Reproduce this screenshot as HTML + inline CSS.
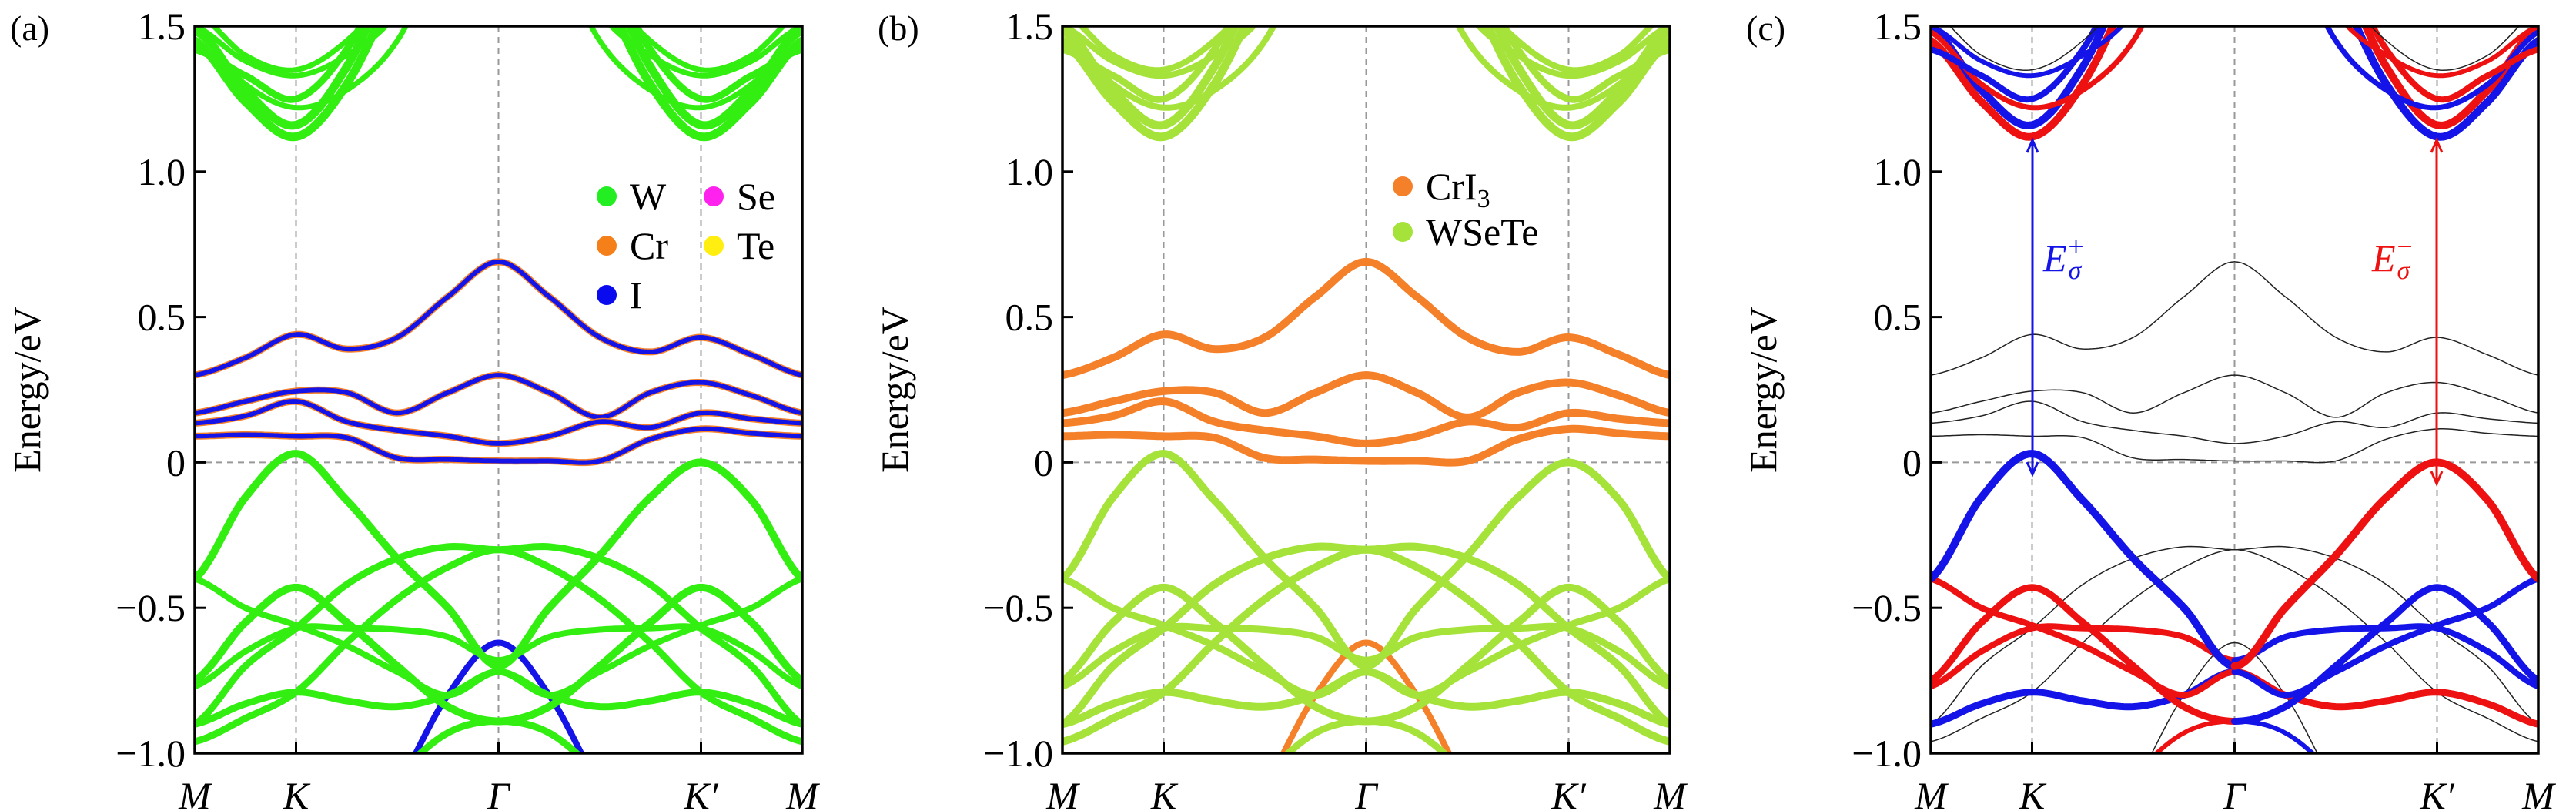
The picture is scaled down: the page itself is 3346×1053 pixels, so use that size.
<!DOCTYPE html>
<html><head><meta charset="utf-8"><style>
html,body{margin:0;padding:0;background:#fff}
svg{display:block}
text{font-family:"Liberation Serif",serif;fill:#000}
</style></head><body>
<svg id="fig" width="3346" height="1053" viewBox="0 0 3346 1053" xmlns="http://www.w3.org/2000/svg"></svg>
<script>
// ---- data ----
const kNodes = [0,1/12,2/12,3/12,4/12,5/12,6/12,7/12,8/12,9/12,10/12,11/12,1];
const kTickLabels = ["M","K","Γ","K′","M"];
const kTickPos = [0,1/6,0.5,5/6,1];
const yTicks = [1.5,1.0,0.5,0,-0.5,-1.0];
const yTickLabels = ["1.5","1.0","0.5","0","−0.5","−1.0"];
const D1 = [0.30,0.36,0.44,0.39,0.43,0.57,0.69,0.57,0.43,0.38,0.43,0.37,0.30];
const D2 = [0.17,0.21,0.245,0.24,0.17,0.24,0.30,0.24,0.155,0.24,0.275,0.23,0.17];
const D3 = [0.135,0.16,0.21,0.14,0.11,0.09,0.065,0.09,0.14,0.12,0.17,0.15,0.135];
const D4 = [0.09,0.095,0.09,0.085,0.015,0.01,0.005,0.005,0.005,0.08,0.115,0.10,0.09];
const VA = [-0.40,-0.12,0.03,-0.13,-0.33,-0.50,-0.70,-0.50,-0.32,-0.12,0.00,-0.13,-0.40];
const VB = [-0.40,-0.50,-0.56,-0.63,-0.72,-0.80,-0.72,-0.80,-0.72,-0.63,-0.56,-0.50,-0.40];
const VC = [-0.75,-0.55,-0.43,-0.55,-0.70,-0.84,-0.89,-0.84,-0.70,-0.55,-0.43,-0.55,-0.75];
const VD = [-0.77,-0.65,-0.57,-0.57,-0.575,-0.60,-0.68,-0.60,-0.575,-0.57,-0.57,-0.65,-0.77];
const VE = [-0.90,-0.83,-0.79,-0.82,-0.84,-0.80,-0.72,-0.80,-0.84,-0.82,-0.79,-0.83,-0.90];
const VG1 = [-0.90,-0.70,-0.57,-0.42,-0.33,-0.29,-0.30,-0.29,-0.33,-0.42,-0.57,-0.70,-0.90];
const VG2 = [-0.96,-0.88,-0.79,-0.62,-0.47,-0.36,-0.30,-0.36,-0.47,-0.62,-0.79,-0.88,-0.96];
const VH = [-2,-1.8,-1.6,-1.4,-1.12,-0.80,-0.62,-0.80,-1.12,-1.4,-1.6,-1.8,-2];
const VI = [-2,-1.8,-1.6,-1.3,-1.08,-0.93,-0.89,-0.93,-1.08,-1.3,-1.6,-1.8,-2];
const C1 = [1.45,1.24,1.12,1.30,1.65,2,2.2,2,1.65,1.30,1.12,1.24,1.45];
const C2 = [1.50,1.28,1.16,1.36,1.72,2,2.2,2,1.72,1.36,1.16,1.28,1.50];
const C3 = [1.48,1.30,1.22,1.28,1.45,1.8,2.1,1.8,1.45,1.28,1.22,1.30,1.48];
const C4 = [1.42,1.33,1.25,1.42,1.75,2,2.2,2,1.75,1.42,1.25,1.33,1.42];
const C5 = [1.50,1.38,1.33,1.40,1.55,1.9,2.1,1.9,1.55,1.40,1.33,1.38,1.50];
const C6 = [1.55,1.40,1.35,1.45,1.65,2,2.2,2,1.65,1.45,1.35,1.40,1.55];

// ---- styles ----
const GA='#33ee11', GB='#a6e33a', OR='#f5802a', BL='#1414e8', RD='#ee1111', BK='#222';
const bands = [
 ['c1',C1,[GA,11],[GB,11],[RD,BL,10]],
 ['c2',C2,[GA,11],[GB,11],[BL,RD,10]],
 ['c3',C3,[GA,7],[GB,8],[RD,BL,7]],
 ['c4',C4,[GA,9],[GB,9],[BL,RD,8]],
 ['c5',C5,[GA,7],[GB,8],[BL,RD,6]],
 ['c6',C6,[GA,7],[GB,8],[BK,BK,1.5]],
 ['vg1',VG1,[GA,9],[GB,10],[BK,BK,1.5]],
 ['vg2',VG2,[GA,9],[GB,10],[BK,BK,1.5]],
 ['vh',VH,[BL,8],[OR,8],[BK,BK,1.5]],
 ['vi',VI,[GA,9],[GB,9],[RD,BL,6]],
 ['ve',VE,[GA,9],[GB,10],[BL,RD,9]],
 ['vd',VD,[GA,8],[GB,9],[RD,BL,8]],
 ['vc',VC,[GA,10],[GB,10],[RD,BL,9]],
 ['vb',VB,[GA,8],[GB,9],[RD,BL,8]],
 ['va',VA,[GA,10],[GB,10],[BL,RD,10]],
 ['d1',D1,[BL,6,OR],[OR,10],[BK,BK,1.5]],
 ['d2',D2,[BL,6,OR],[OR,10],[BK,BK,1.5]],
 ['d3',D3,[BL,6,OR],[OR,10],[BK,BK,1.5]],
 ['d4',D4,[BL,6,OR],[OR,10],[BK,BK,1.5]]
];

const NS='http://www.w3.org/2000/svg';
const svg=document.getElementById('fig');
function mk(tag,attrs,parent){const e=document.createElementNS(NS,tag);for(const k in attrs)e.setAttribute(k,attrs[k]);(parent||svg).appendChild(e);return e;}

const panels=[{id:'a',x0:253,label:'(a)'},{id:'b',x0:1380,label:'(b)'},{id:'c',x0:2508,label:'(c)'}];
const PW=789, Y0=34, Y1=978, EMAX=1.5, EMIN=-1.0;

function sample(vals){
  const pts=[];const n=vals.length;
  for(let i=0;i<n-1;i++){
    const p0=vals[Math.max(i-1,0)],p1=vals[i],p2=vals[i+1],p3=vals[Math.min(i+2,n-1)];
    const k1=kNodes[i],k2=kNodes[i+1];
    for(let s=0;s<16;s++){const t=s/16;
      const t2=t*t,t3=t2*t;
      const v=0.5*((2*p1)+(-p0+p2)*t+(2*p0-5*p1+4*p2-p3)*t2+(-p0+3*p1-3*p2+p3)*t3);
      pts.push([k1+(k2-k1)*t,v]);}
  }
  pts.push([1,vals[n-1]]);return pts;
}

panels.forEach((P,pi)=>{
  const X=k=>P.x0+k*PW; const Y=e=>Y1-(e-EMIN)/(EMAX-EMIN)*(Y1-Y0);
  const g=mk('g',{});
  
  
  const cp=mk('clipPath',{id:'clip'+P.id},g);
  mk('rect',{x:P.x0,y:Y0,width:PW,height:Y1-Y0},cp);
  kTickPos.slice(1,4).forEach(k=>{
    const l=mk('line',{x1:X(k),x2:X(k),y1:Y0,y2:Y1,stroke:'#999','stroke-width':2,'stroke-dasharray':'8,6'},g);
    
    
  });
  const z=mk('line',{x1:P.x0,x2:P.x0+PW,y1:Y(0),y2:Y(0),stroke:'#999','stroke-width':2,'stroke-dasharray':'8,6'},g);
  
  
  const bg=mk('g',{'clip-path':'url(#clip'+P.id+')',fill:'none','stroke-linecap':'round','stroke-linejoin':'round'},g);
  bands.forEach(b=>{
    const pts=sample(b[1]);
    const path=ps=>ps.map((p,i)=>(i?'L':'M')+X(p[0]).toFixed(1)+','+Y(Math.max(-1.3,Math.min(1.8,p[1]))).toFixed(1)).join('');
    if(P.id==='a'||P.id==='b'){
      const st=P.id==='a'?b[2]:b[3];
      if(st[2]){mk('path',{d:path(pts),stroke:st[2],'stroke-width':st[1]+3},bg);}
      const e=mk('path',{d:path(pts),stroke:st[0],'stroke-width':st[1]},bg);
      
      
    } else {
      const st=b[4];
      const L=pts.filter(p=>p[0]<=0.5+1e-9), R=pts.filter(p=>p[0]>=0.5-1e-9);
      const e1=mk('path',{d:path(L),stroke:st[0],'stroke-width':st[2]},bg);
      
      
      const e2=mk('path',{d:path(R),stroke:st[1],'stroke-width':st[2]},bg);
      
      
    }
  });
  const fr=mk('rect',{x:P.x0,y:Y0,width:PW,height:Y1-Y0,fill:'none',stroke:'#000','stroke-width':3.5},g);
  
  
  yTicks.forEach((v,i)=>{
    mk('line',{x1:P.x0,x2:P.x0+14,y1:Y(v),y2:Y(v),stroke:'#000','stroke-width':3},g);
    const t=mk('text',{x:P.x0-12,y:Y(v)+17,'text-anchor':'end','font-size':50},g);
    t.textContent=yTickLabels[i];
    
    
  });
  kTickPos.forEach((k,i)=>{
    mk('line',{x1:X(k),x2:X(k),y1:Y1,y2:Y1-14,stroke:'#000','stroke-width':3},g);
    const t=mk('text',{x:X(k),y:1050,'text-anchor':'middle','font-size':50,'font-style':'italic'},g);
    t.textContent=kTickLabels[i];
    
    
  });
  const yt=mk('text',{x:0,y:0,'text-anchor':'middle','font-size':50,transform:`translate(${P.x0-201},${(Y0+Y1)/2}) rotate(-90)`},g);
  yt.textContent='Energy/eV';
  
  
  const pl=mk('text',{x:P.x0-240,y:52,'font-size':46},g);
  pl.textContent=P.label;
  
  
});

function legendEntry(cx,cy,color,label,sub){
  const g=mk('g',{});
  
  
  mk('circle',{cx:cx,cy:cy,r:13,fill:color},g);
  const t=mk('text',{x:cx+30,y:cy+17,'font-size':50},g);
  t.textContent=label;
  if(sub){const s=mk('tspan',{'font-size':34,dy:10},t);s.textContent=sub;}
}
legendEntry(788,255,'#22ee22','W');
legendEntry(788,319,'#f5801a','Cr');
legendEntry(788,383,'#0a0aee','I');
legendEntry(927,255,'#ff22ee','Se');
legendEntry(927,319,'#ffee10','Te');
legendEntry(1822,242,OR,'CrI','3');
legendEntry(1822,301,GB,'WSeTe');

function arrow(x,y1,y2,color,name){
  const g=mk('g',{});
  
  
  mk('line',{x1:x,x2:x,y1:y1+4,y2:y2-4,stroke:color,'stroke-width':3},g);
  mk('path',{d:`M${x-7},${y1+18}L${x},${y1+2}L${x+7},${y1+18}`,fill:'none',stroke:color,'stroke-width':3},g);
  mk('path',{d:`M${x-7},${y2-18}L${x},${y2-2}L${x+7},${y2-18}`,fill:'none',stroke:color,'stroke-width':3},g);
}
arrow(2640,180,618,BL,'arrow-e-sigma-plus');
arrow(3165,180,630,RD,'arrow-e-sigma-minus');
function elabel(x,color,sup,name){
  const t=mk('text',{x:x,y:352,'font-size':50,'font-style':'italic',fill:color});
  
  
  t.style.fill=color;
  t.textContent='E';
  const a=mk('tspan',{'font-size':34,dy:10,dx:2},t);a.textContent='σ';
  const b=mk('tspan',{'font-size':36,dy:-30,dx:-17,'font-style':'normal'},t);b.textContent=sup;
}
elabel(2654,BL,'+','e-sigma-plus-label');
elabel(3081,RD,'−','e-sigma-minus-label');
</script>
</body></html>
